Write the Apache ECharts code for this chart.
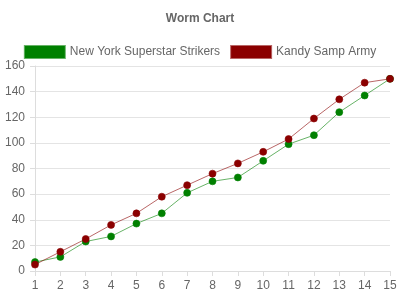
<!DOCTYPE html>
<html><head><meta charset="utf-8">
<script src="https://cdn.jsdelivr.net/npm/echarts@6/dist/echarts.min.js"></script>
<style>html,body{margin:0;padding:0;background:#fff}#c{width:400px;height:300px}</style>
</head><body><div id="c"></div>
<script>
const categories = ['1','2','3','4','5','6','7','8','9','10','11','12','13','14','15'];
const nyStrikers = [7, 11, 23, 27, 37, 45, 61, 70, 73, 86, 99, 106, 124, 137, 150];
const kandyArmy = [5, 15, 25, 36, 45, 58, 67, 76, 84, 93, 103, 119, 134, 147, 150];
const seriesNames = ['New York Superstar Strikers', 'Kandy Samp Army'];
const yTicks = [0, 20, 40, 60, 80, 100, 120, 140, 160];

const font = 'Liberation Sans, Arial, Helvetica, sans-serif';
const chart = echarts.init(document.getElementById('c'), null, {renderer: 'canvas'});
function mk(name, data, col, line) {
  return {
    name, type: 'line', data,
    symbol: 'circle', symbolSize: 7,
    itemStyle: {color: col, borderColor: line, borderWidth: 1},
    lineStyle: {color: line, width: 1},
    emphasis: {disabled: true},
    animation: false
  };
}
chart.setOption({
  animation: false,
  title: {text: 'Worm Chart', left: 'center', top: 8,
    textStyle: {fontFamily: font, fontSize: 12, fontWeight: 'bold', color: '#666'}},
  legend: {top: 40, left: 'center', itemWidth: 40, itemHeight: 12, itemGap: 10,
    icon: 'rect',
    textStyle: {fontFamily: font, fontSize: 12, color: '#666'},
    data: seriesNames},
  grid: {left: 35, right: 10, top: 66, bottom: 29, containLabel: false},
  xAxis: {type: 'category', data: categories, boundaryGap: false,
    axisLine: {lineStyle: {color: '#ddd'}},
    axisTick: {show: true, length: 5, lineStyle: {color: '#ddd'}},
    axisLabel: {fontFamily: font, fontSize: 12, color: '#666', margin: 9},
    splitLine: {show: false}},
  yAxis: {type: 'value', min: yTicks[0], max: yTicks[yTicks.length-1], interval: 20,
    axisLine: {show: true, lineStyle: {color: '#ddd'}},
    axisTick: {show: true, length: 5, lineStyle: {color: '#ddd'}},
    axisLabel: {fontFamily: font, fontSize: 12, color: '#666', margin: 10},
    splitLine: {lineStyle: {color: '#e4e4e4'}}},
  series: [
    mk(seriesNames[0], nyStrikers, '#008000', 'rgba(0,128,0,0.6)'),
    mk(seriesNames[1], kandyArmy, '#8b0000', 'rgba(139,0,0,0.6)')
  ]
});
</script></body></html>
